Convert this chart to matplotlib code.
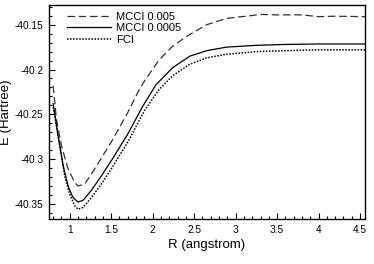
import matplotlib

matplotlib.use("Agg")

import matplotlib.pyplot as plt
from matplotlib.ticker import MultipleLocator, FormatStrFormatter


# Bond length (angstrom) and energies (Hartree)
R_MCCI_005 = [0.80, 0.84, 0.90, 0.98, 1.06, 1.10, 1.18, 1.30, 1.50, 1.70,
              1.84, 1.90, 2.08, 2.24, 2.41, 2.65, 2.89, 3.17, 3.30, 3.50,
              3.80, 4.00, 4.20, 4.56]
E_MCCI_005 = [-40.218, -40.256, -40.285, -40.311, -40.326, -40.330, -40.328,
              -40.311, -40.281, -40.248, -40.222, -40.213, -40.189, -40.174,
              -40.163, -40.150, -40.143, -40.140, -40.1385, -40.139, -40.139,
              -40.141, -40.1405, -40.141]

R_MCCI_0005 = [0.80, 0.86, 0.92, 0.98, 1.04, 1.10, 1.16, 1.26, 1.38, 1.50,
               1.70, 1.88, 2.04, 2.24, 2.45, 2.65, 2.89, 3.25, 3.60, 4.00,
               4.56]
E_MCCI_0005 = [-40.238, -40.274, -40.307, -40.330, -40.343, -40.348, -40.346,
               -40.335, -40.319, -40.302, -40.272, -40.241, -40.217, -40.198,
               -40.185, -40.179, -40.175, -40.173, -40.172, -40.1715,
               -40.1715]

R_FCI = [0.80, 0.82, 0.88, 0.94, 1.00, 1.06, 1.10, 1.16, 1.26, 1.38, 1.50,
         1.70, 1.90, 2.08, 2.24, 2.45, 2.65, 2.89, 3.25, 3.60, 4.00, 4.56]
E_FCI = [-40.242, -40.252, -40.285, -40.319, -40.339, -40.352, -40.356,
         -40.354, -40.343, -40.328, -40.311, -40.281, -40.246, -40.222,
         -40.207, -40.194, -40.187, -40.183, -40.180, -40.179, -40.178,
         -40.178]

LABELS = ["MCCI 0.005", "MCCI 0.0005", "FCI"]


def plot_curves():
    plt.rcParams["font.family"] = ["Liberation Sans", "DejaVu Sans"]

    fig = plt.figure(figsize=(3.74, 2.64), dpi=100)
    ax = fig.add_axes([0.131, 0.170, 0.845, 0.811])

    ax.plot(R_MCCI_005, E_MCCI_005, color="#303030", lw=0.9,
            dashes=(6, 3), label=LABELS[0])
    ax.plot(R_MCCI_0005, E_MCCI_0005, color="black", lw=0.9,
            label=LABELS[1])
    ax.plot(R_FCI, E_FCI, color="black", lw=1.1,
            dashes=(1, 1), label=LABELS[2])

    ax.set_xlim(0.75, 4.56)
    ax.set_ylim(-40.367, -40.128)

    ax.xaxis.set_major_locator(MultipleLocator(0.5))
    ax.xaxis.set_minor_locator(MultipleLocator(0.1))
    ax.yaxis.set_major_locator(MultipleLocator(0.05))
    ax.yaxis.set_minor_locator(MultipleLocator(0.01))
    ax.xaxis.set_major_formatter(FormatStrFormatter("%g"))
    ax.yaxis.set_major_formatter(FormatStrFormatter("%g"))

    ax.tick_params(which="both", direction="in", top=False, right=False,
                   labelsize=7.3, width=0.8)
    ax.tick_params(which="major", length=4, pad=4)
    ax.tick_params(which="minor", length=2)

    for spine in ax.spines.values():
        spine.set_linewidth(1.0)

    ax.set_xlabel("R (angstrom)", fontsize=9.5, labelpad=3)
    ax.set_ylabel("E (Hartree)", fontsize=9.5, labelpad=2)

    ax.legend(loc="upper left", frameon=False, fontsize=8,
              handlelength=4.0, handletextpad=0.45, labelspacing=0.13,
              borderaxespad=0.2, bbox_to_anchor=(0.035, 1.0))

    fig.savefig("out.png", dpi=100)


def main():
    plot_curves()


if __name__ == "__main__":
    main()
